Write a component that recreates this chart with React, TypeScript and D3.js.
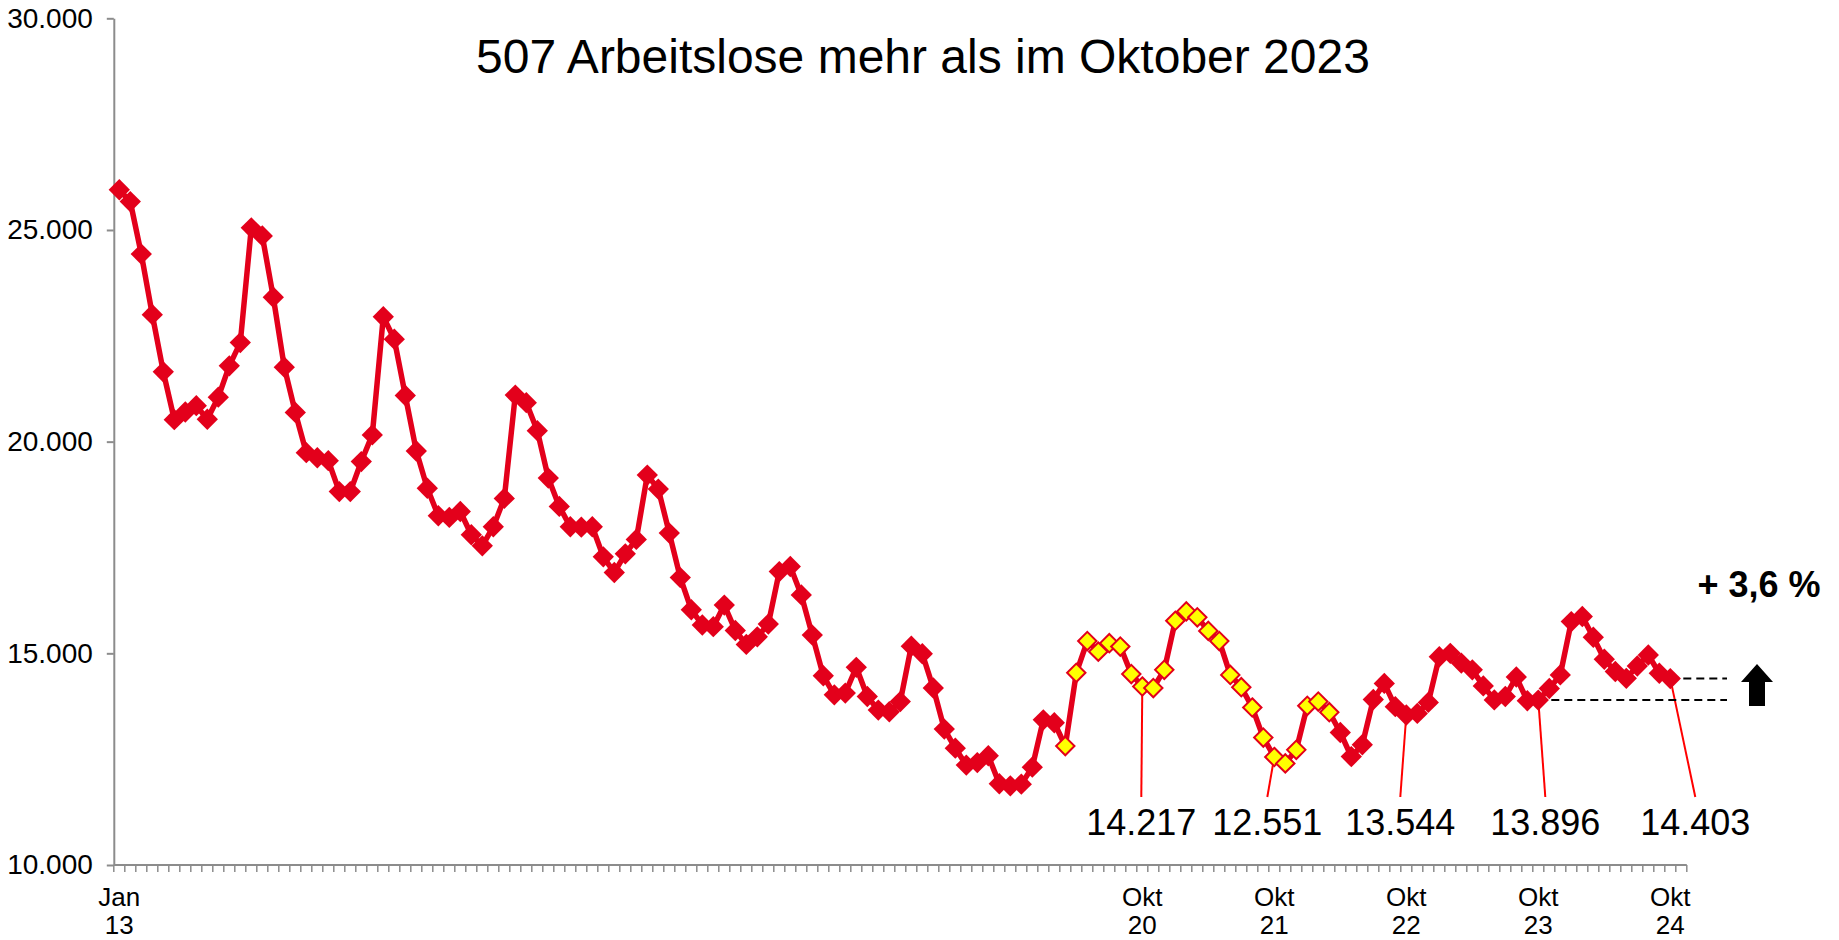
import React, { useEffect, useRef } from "react";
import * as d3 from "d3";

const width = 1839;
const height = 940;

// Arbeitslose je Monat (Jan 2013 - Okt 2024)
const values2013 = [25950, 25670, 24430, 23000, 21650, 20520, 20700, 20850, 20530, 21050, 21790, 22340];
const values2014 = [25050, 24860, 23410, 21760, 20690, 19740, 19620, 19550, 18820, 18820, 19530, 20160];
const values2015 = [22950, 22420, 21090, 19780, 18900, 18250, 18210, 18350, 17800, 17540, 17990, 18660];
const values2016 = [21100, 20920, 20260, 19140, 18470, 17990, 17980, 17990, 17280, 16910, 17350, 17690];
const values2017 = [19210, 18880, 17840, 16790, 16030, 15670, 15630, 16140, 15540, 15210, 15390, 15690];
const values2018 = [16930, 17050, 16380, 15430, 14470, 14020, 14060, 14670, 13980, 13660, 13620, 13860];
const values2019 = [15170, 14990, 14180, 13210, 12760, 12360, 12420, 12580, 11920, 11870, 11910, 12310];
const values2020 = [13430, 13360, 12810, 14540, 15290, 15040, 15240, 15160, 14510, 14217, 14180, 14610];
const values2021 = [15770, 15990, 15850, 15530, 15290, 14490, 14200, 13720, 13010, 12551, 12400, 12720];
const values2022 = [13760, 13860, 13610, 13130, 12560, 12840, 13910, 14290, 13740, 13544, 13580, 13840];
const values2023 = [14920, 15000, 14770, 14610, 14230, 13900, 13980, 14440, 13880, 13896, 14170, 14490];
const values2024 = [15750, 15870, 15380, 14860, 14570, 14410, 14700, 14960, 14530, 14403];

const values = [
  ...values2013, ...values2014, ...values2015, ...values2016,
  ...values2017, ...values2018, ...values2019, ...values2020,
  ...values2021, ...values2022, ...values2023, ...values2024,
];

// gelb markiert: Mrz 2020 bis Mrz 2022
const highlightRange = [86, 110];

const yTicks = [10000, 15000, 20000, 25000, 30000];

const xLabelIndex = [0, 93, 105, 117, 129, 141];
const xLabelMonth = ["Jan", "Okt", "Okt", "Okt", "Okt", "Okt"];
const xLabelYear = ["13", "20", "21", "22", "23", "24"];

const annotIndex = [93, 105, 117, 129, 141];
const annotText = ["14.217", "12.551", "13.544", "13.896", "14.403"];
const annotShift = [-1, -7, -6, 7, 25]; // layout offsets of the value labels

const title = "507 Arbeitslose mehr als im Oktober 2023";
const changeText = "+ 3,6 %";

const red = "#e3001b";
const font = "'Liberation Sans', Arial, sans-serif";

const App = () => {
  const svgRef = useRef(null);

  useEffect(() => {
    const svg = d3.select(svgRef.current);
    svg.selectAll("*").remove();

    // one empty slot after Okt 24, like the original axis
    const slots = d3.range(values.length + 1);

    const x = d3.scaleBand().domain(slots).range([113.8, 1686.8]).padding(0);
    const y = d3.scaleLinear().domain([10000, 30000]).range([865, 18.3]);
    const cx = (i) => x(i) + x.bandwidth() / 2;

    const fmt = d3
      .formatLocale({ decimal: ",", thousands: ".", grouping: [3], currency: ["", " €"] })
      .format(",.0f");

    // y axis
    const yAxis = svg
      .append("g")
      .attr("transform", `translate(${x.range()[0]},0)`)
      .call(d3.axisLeft(y).tickValues(yTicks).tickFormat(fmt).tickSize(7).tickSizeOuter(0).tickPadding(14));
    yAxis.select(".domain").attr("stroke", "#8c8c8c").attr("stroke-width", 2);
    yAxis.selectAll(".tick line").attr("stroke", "#8c8c8c").attr("stroke-width", 2);
    yAxis
      .selectAll(".tick text")
      .attr("fill", "#000")
      .attr("font-family", font)
      .attr("font-size", 28);

    // x axis with a tick between every month
    const x0 = x.range()[0];
    const edges = d3.range(slots.length + 1).map((i) => x0 + i * x.step());
    const xAxis = svg.append("g");
    xAxis
      .append("line")
      .attr("x1", x.range()[0])
      .attr("x2", x.range()[1])
      .attr("y1", y(10000))
      .attr("y2", y(10000))
      .attr("stroke", "#8c8c8c")
      .attr("stroke-width", 2);
    xAxis
      .selectAll("line.tick")
      .data(edges)
      .enter()
      .append("line")
      .attr("class", "tick")
      .attr("x1", (d) => d)
      .attr("x2", (d) => d)
      .attr("y1", y(10000))
      .attr("y2", y(10000) + 7)
      .attr("stroke", "#8c8c8c")
      .attr("stroke-width", 1.5);

    const xLabels = xAxis
      .selectAll("text.lbl")
      .data(xLabelIndex)
      .enter()
      .append("text")
      .attr("class", "lbl")
      .attr("text-anchor", "middle")
      .attr("font-family", font)
      .attr("font-size", 26)
      .attr("x", (d) => cx(d));
    xLabels.append("tspan").attr("x", (d) => cx(d)).attr("y", 906).text((d, i) => xLabelMonth[i]);
    xLabels.append("tspan").attr("x", (d) => cx(d)).attr("y", 934).text((d, i) => xLabelYear[i]);

    // title
    svg
      .append("text")
      .attr("x", 923)
      .attr("y", 73)
      .attr("text-anchor", "middle")
      .attr("font-family", font)
      .attr("font-size", 48)
      .text(title);

    // leader lines and value labels
    const notes = svg.append("g");
    notes
      .selectAll("line")
      .data(annotIndex)
      .enter()
      .append("line")
      .attr("x1", (d) => cx(d))
      .attr("y1", (d) => y(values[d]))
      .attr("x2", (d, i) => cx(d) + annotShift[i])
      .attr("y2", 797)
      .attr("stroke", "#ff0000")
      .attr("stroke-width", 2);
    notes
      .selectAll("text")
      .data(annotIndex)
      .enter()
      .append("text")
      .attr("x", (d, i) => cx(d) + annotShift[i])
      .attr("y", 835)
      .attr("text-anchor", "middle")
      .attr("font-family", font)
      .attr("font-size", 36)
      .text((d, i) => annotText[i]);

    // dashed comparison lines Okt 23 / Okt 24
    const lastIdx = values.length - 1;
    const prevIdx = lastIdx - 12;
    const dashEnd = 1727;
    [lastIdx, prevIdx].forEach((i) => {
      svg
        .append("line")
        .attr("x1", cx(i))
        .attr("x2", dashEnd)
        .attr("y1", y(values[i]))
        .attr("y2", y(values[i]))
        .attr("stroke", "#000")
        .attr("stroke-width", 2)
        .attr("stroke-dasharray", "8,5");
    });

    // line
    const line = d3
      .line()
      .x((d, i) => cx(i))
      .y((d) => y(d));
    svg
      .append("path")
      .datum(values)
      .attr("d", line)
      .attr("fill", "none")
      .attr("stroke", red)
      .attr("stroke-width", 5.5)
      .attr("stroke-linejoin", "round");

    // markers
    const diamond = d3.symbol(d3.symbolDiamond2, 290)();
    const diamondSmall = d3.symbol(d3.symbolDiamond2, 215)();
    const inRange = (i) => i >= highlightRange[0] && i <= highlightRange[1];
    svg
      .append("g")
      .selectAll("path")
      .data(values)
      .enter()
      .append("path")
      .attr("transform", (d, i) => `translate(${cx(i)},${y(d)})`)
      .attr("d", (d, i) => (inRange(i) ? diamondSmall : diamond))
      .attr("fill", (d, i) => (inRange(i) ? "#ffff00" : red))
      .attr("stroke", (d, i) => (inRange(i) ? red : "none"))
      .attr("stroke-width", 2);

    // arrow and percentage
    const ax = 1757;
    svg
      .append("path")
      .attr(
        "d",
        `M${ax},664 L${ax + 16},682 L${ax + 8},682 L${ax + 8},706 L${ax - 8},706 L${ax - 8},682 L${ax - 16},682 Z`
      )
      .attr("fill", "#000");
    svg
      .append("text")
      .attr("x", ax + 2)
      .attr("y", 597)
      .attr("text-anchor", "middle")
      .attr("font-family", font)
      .attr("font-weight", "bold")
      .attr("font-size", 36)
      .text(changeText);
  }, []);

  return (
    <svg
      ref={svgRef}
      width={width}
      height={height}
      style={{ position: "absolute", left: 0, top: 0, background: "#fff" }}
    ></svg>
  );
};

export default App;
